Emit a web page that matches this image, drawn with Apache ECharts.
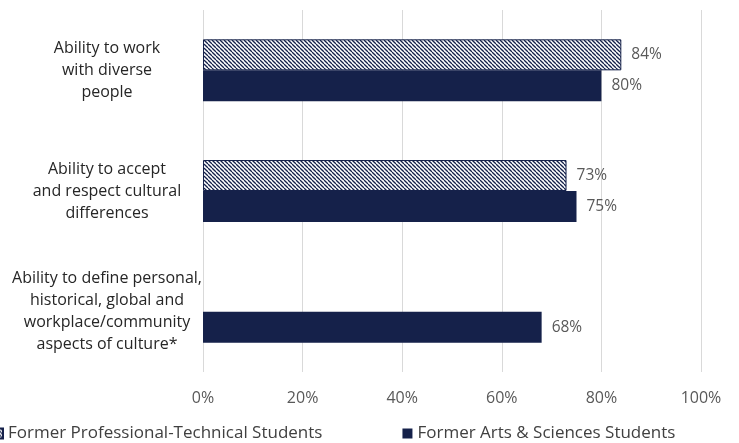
<!DOCTYPE html>
<html>
<head>
<meta charset="utf-8">
<script src="https://cdn.jsdelivr.net/npm/echarts@6/dist/echarts.min.js"></script>
<style>
  html, body { margin: 0; padding: 0; background: #fff; }
  #chart { width: 739px; height: 443px; }
</style>
</head>
<body>
<div id="chart"></div>
<script>
// Survey items (top to bottom)
const categories = [
  'Ability to work\nwith diverse\npeople',
  'Ability to accept\nand respect cultural\ndifferences',
  'Ability to define personal,\nhistorical, global and\nworkplace/community\naspects of culture*'
];
const seriesNames = ['Former Professional-Technical Students', 'Former Arts & Sciences Students'];
const profTechValues = [84, 73, null];
const artsSciValues = [80, 75, 68];
const xTicks = [0, 20, 40, 60, 80, 100];

const navy = '#15214a';
const textFont = '"Open Sans", "Noto Sans", sans-serif';

// Diagonal hatch fill for the professional-technical bars
function makeHatch() {
  const s = 4;
  const c = document.createElement('canvas');
  c.width = s; c.height = s;
  const ctx = c.getContext('2d');
  ctx.fillStyle = '#ffffff';
  ctx.fillRect(0, 0, s, s);
  ctx.strokeStyle = navy;
  ctx.lineWidth = 1.3;
  for (let k = -1; k <= 1; k++) {
    ctx.beginPath();
    ctx.moveTo(k * s, 0);
    ctx.lineTo(k * s + s, s);
    ctx.stroke();
  }
  return c;
}
const hatch = { image: makeHatch(), repeat: 'repeat' };

const chart = echarts.init(document.getElementById('chart'), null, { renderer: 'canvas' });

const labelStyle = {
  show: true,
  position: 'right',
  distance: 10,
  formatter: p => p.value + '%',
  color: '#595959',
  fontSize: 15.5,
  fontFamily: textFont
};

chart.setOption({
  animation: false,
  grid: { left: 203, right: 38, top: 10, height: 362, containLabel: false, outerBoundsMode: 'none' },
  legend: {
    data: seriesNames,
    left: 0,
    top: 420,
    padding: [5, 5, 5, -8],
    icon: 'rect',
    itemWidth: 10,
    itemHeight: 10,
    itemGap: 80,
    textStyle: { color: '#404040', fontSize: 17, fontFamily: textFont }
  },
  xAxis: {
    type: 'value',
    min: xTicks[0],
    max: xTicks[xTicks.length - 1],
    interval: 20,
    axisLine: { show: false },
    axisTick: { show: false },
    splitLine: { lineStyle: { color: '#d9d9d9', width: 1 } },
    axisLabel: {
      formatter: v => v + '%',
      color: '#595959',
      fontSize: 16,
      fontFamily: textFont,
      margin: 18
    }
  },
  yAxis: {
    type: 'category',
    inverse: true,
    data: categories,
    axisLine: { show: false },
    axisTick: { show: false },
    axisLabel: {
      align: 'center',
      margin: 96,
      color: '#262626',
      fontSize: 16,
      lineHeight: 22,
      fontFamily: textFont
    }
  },
  series: [
    {
      name: seriesNames[0],
      type: 'bar',
      data: profTechValues,
      barWidth: 31,
      barGap: '0%',
      itemStyle: { color: hatch, borderColor: navy, borderWidth: 1 },
      label: labelStyle
    },
    {
      name: seriesNames[1],
      type: 'bar',
      data: artsSciValues,
      barWidth: 31,
      itemStyle: { color: navy },
      label: labelStyle
    }
  ]
});
</script>
</body>
</html>
